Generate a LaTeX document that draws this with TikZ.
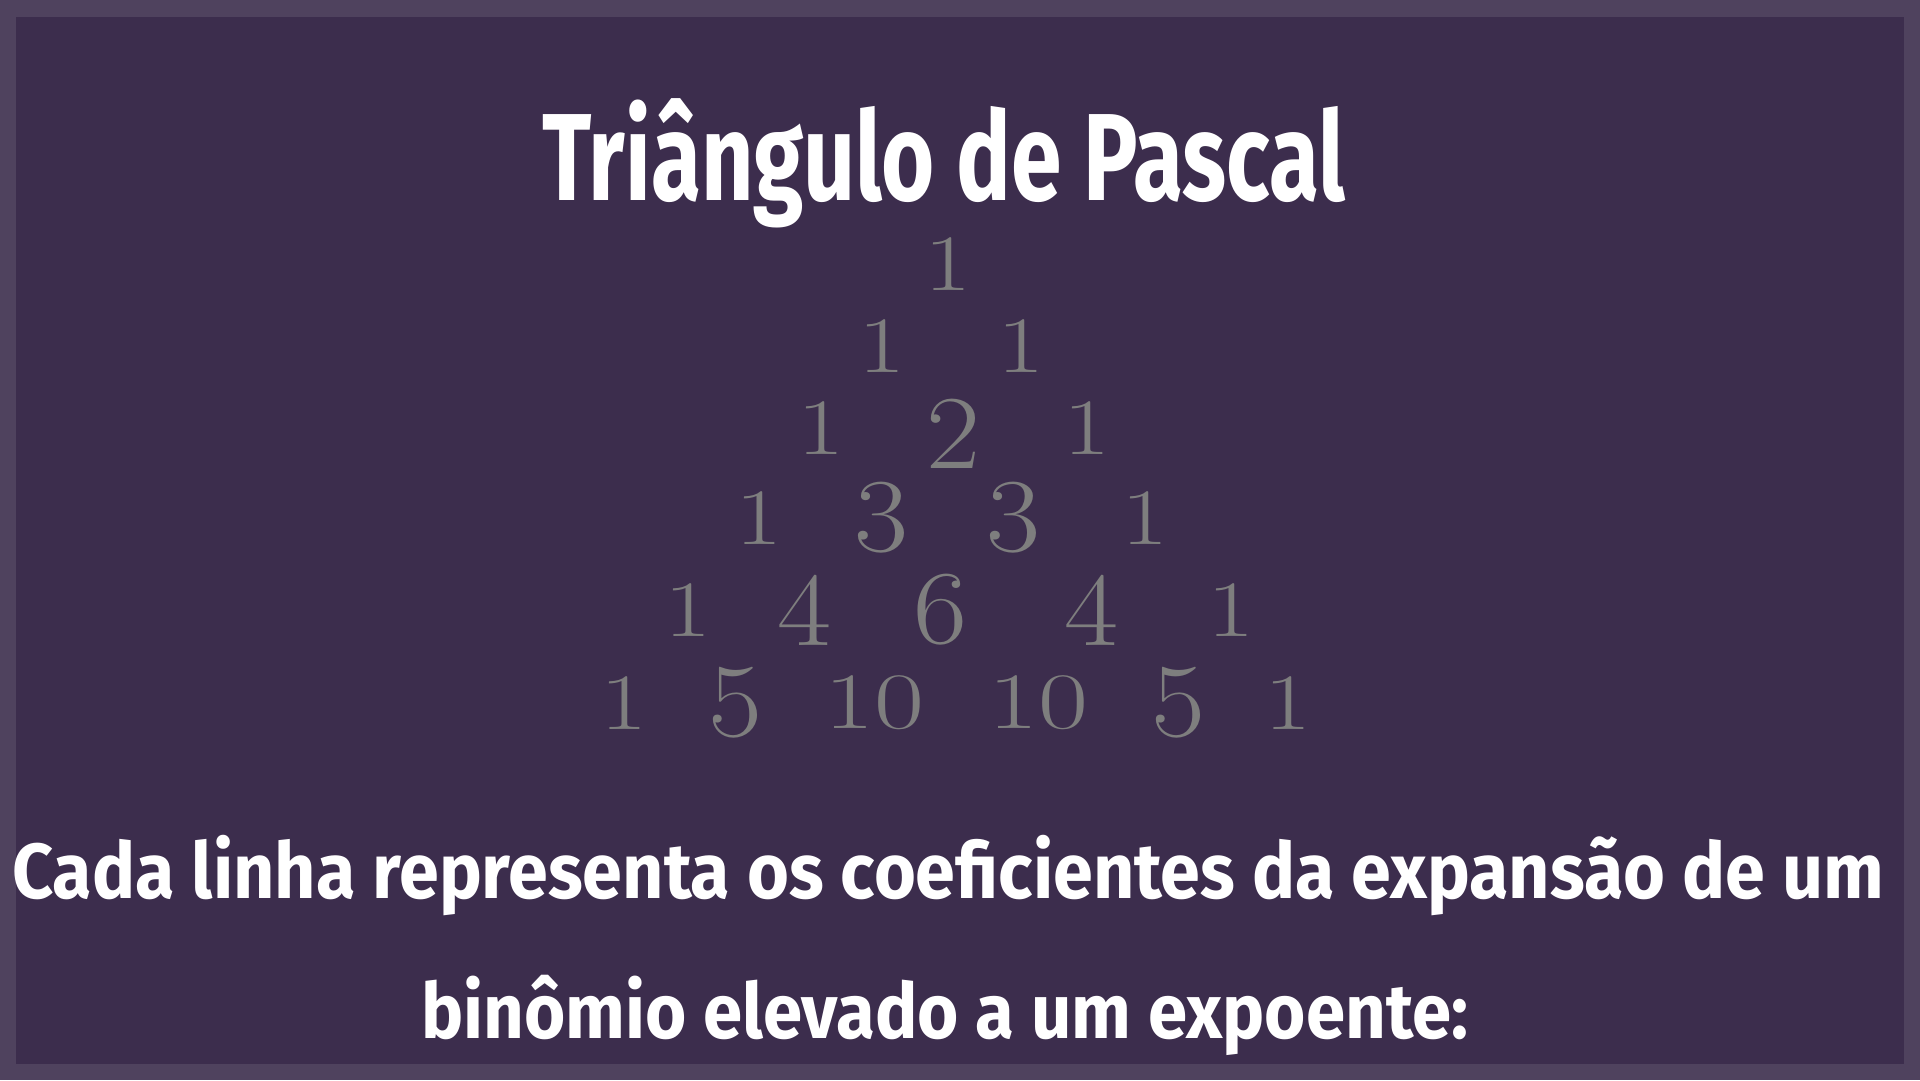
\documentclass[tikz,border=0pt]{standalone}
\usepackage{fontspec}
\usepackage{graphicx}
\newfontfamily\handfont{Fira Sans}
\definecolor{frameout}{HTML}{4F425E}
\definecolor{framein}{HTML}{3C2D4D}
\definecolor{numgray}{HTML}{7E7E7E}
\newcommand{\smallnum}[1]{\scalebox{1.28}[1]{\fontsize{80}{80}\selectfont #1}}
\newcommand{\widenum}[1]{\scalebox{1.36}[1]{\fontsize{80}{80}\selectfont #1}}
\newcommand{\bignum}[1]{\scalebox{1.12}[1]{\fontsize{105}{105}\selectfont #1}}
\tikzset{
  numtxt/.style={inner sep=0pt, text=numgray, anchor=center},
  handtxt/.style={inner sep=0pt, text=white, anchor=base west, font=\handfont\bfseries},
}
\begin{document}
\begin{tikzpicture}[x=1pt,y=-1pt]
\useasboundingbox (0,0) rectangle (1920,1080);
\fill[frameout] (0,0) rectangle (1920,1080);
\fill[framein] (16,17) rectangle (1904,1064);
% title
\node[handtxt] (title) at (542,200) {\resizebox{803pt}{\height}{\fontsize{124}{124}\selectfont Triângulo de Pascal}};
% rows
\node[numtxt] (r1a) at (948,264) {\smallnum{1}};
\node[numtxt] (r2a) at (882,346) {\smallnum{1}};
\node[numtxt] (r2b) at (1021,346) {\smallnum{1}};
\node[numtxt] (r3a) at (821,428) {\smallnum{1}};
\node[numtxt] (r3b) at (953,434) {\bignum{2}};
\node[numtxt] (r3c) at (1087,428) {\smallnum{1}};
\node[numtxt] (r4a) at (759,518) {\smallnum{1}};
\node[numtxt] (r4b) at (881,518) {\bignum{3}};
\node[numtxt] (r4c) at (1013,518) {\bignum{3}};
\node[numtxt] (r4d) at (1145,518) {\smallnum{1}};
\node[numtxt] (r5a) at (688,610) {\smallnum{1}};
\node[numtxt] (r5b) at (804,610) {\bignum{4}};
\node[numtxt] (r5c) at (940,610) {\bignum{6}};
\node[numtxt] (r5d) at (1091,610) {\bignum{4}};
\node[numtxt] (r5e) at (1231,610) {\smallnum{1}};
\node[numtxt] (r6a) at (624,703) {\smallnum{1}};
\node[numtxt] (r6b) at (735,703) {\bignum{5}};
\node[numtxt] (r6c) at (874,703) {\widenum{10}};
\node[numtxt] (r6d) at (1038,703) {\widenum{10}};
\node[numtxt] (r6e) at (1178,703) {\bignum{5}};
\node[numtxt] (r6f) at (1288,703) {\smallnum{1}};
% bottom text
\node[handtxt] (line1) at (12,898) {\resizebox{1872pt}{\height}{\fontsize{78}{78}\selectfont Cada linha representa os coeficientes da expansão de um}};
\node[handtxt] (line2) at (421,1038) {\resizebox{1047pt}{\height}{\fontsize{77}{77}\selectfont binômio elevado a um expoente:}};
\end{tikzpicture}
\end{document}
